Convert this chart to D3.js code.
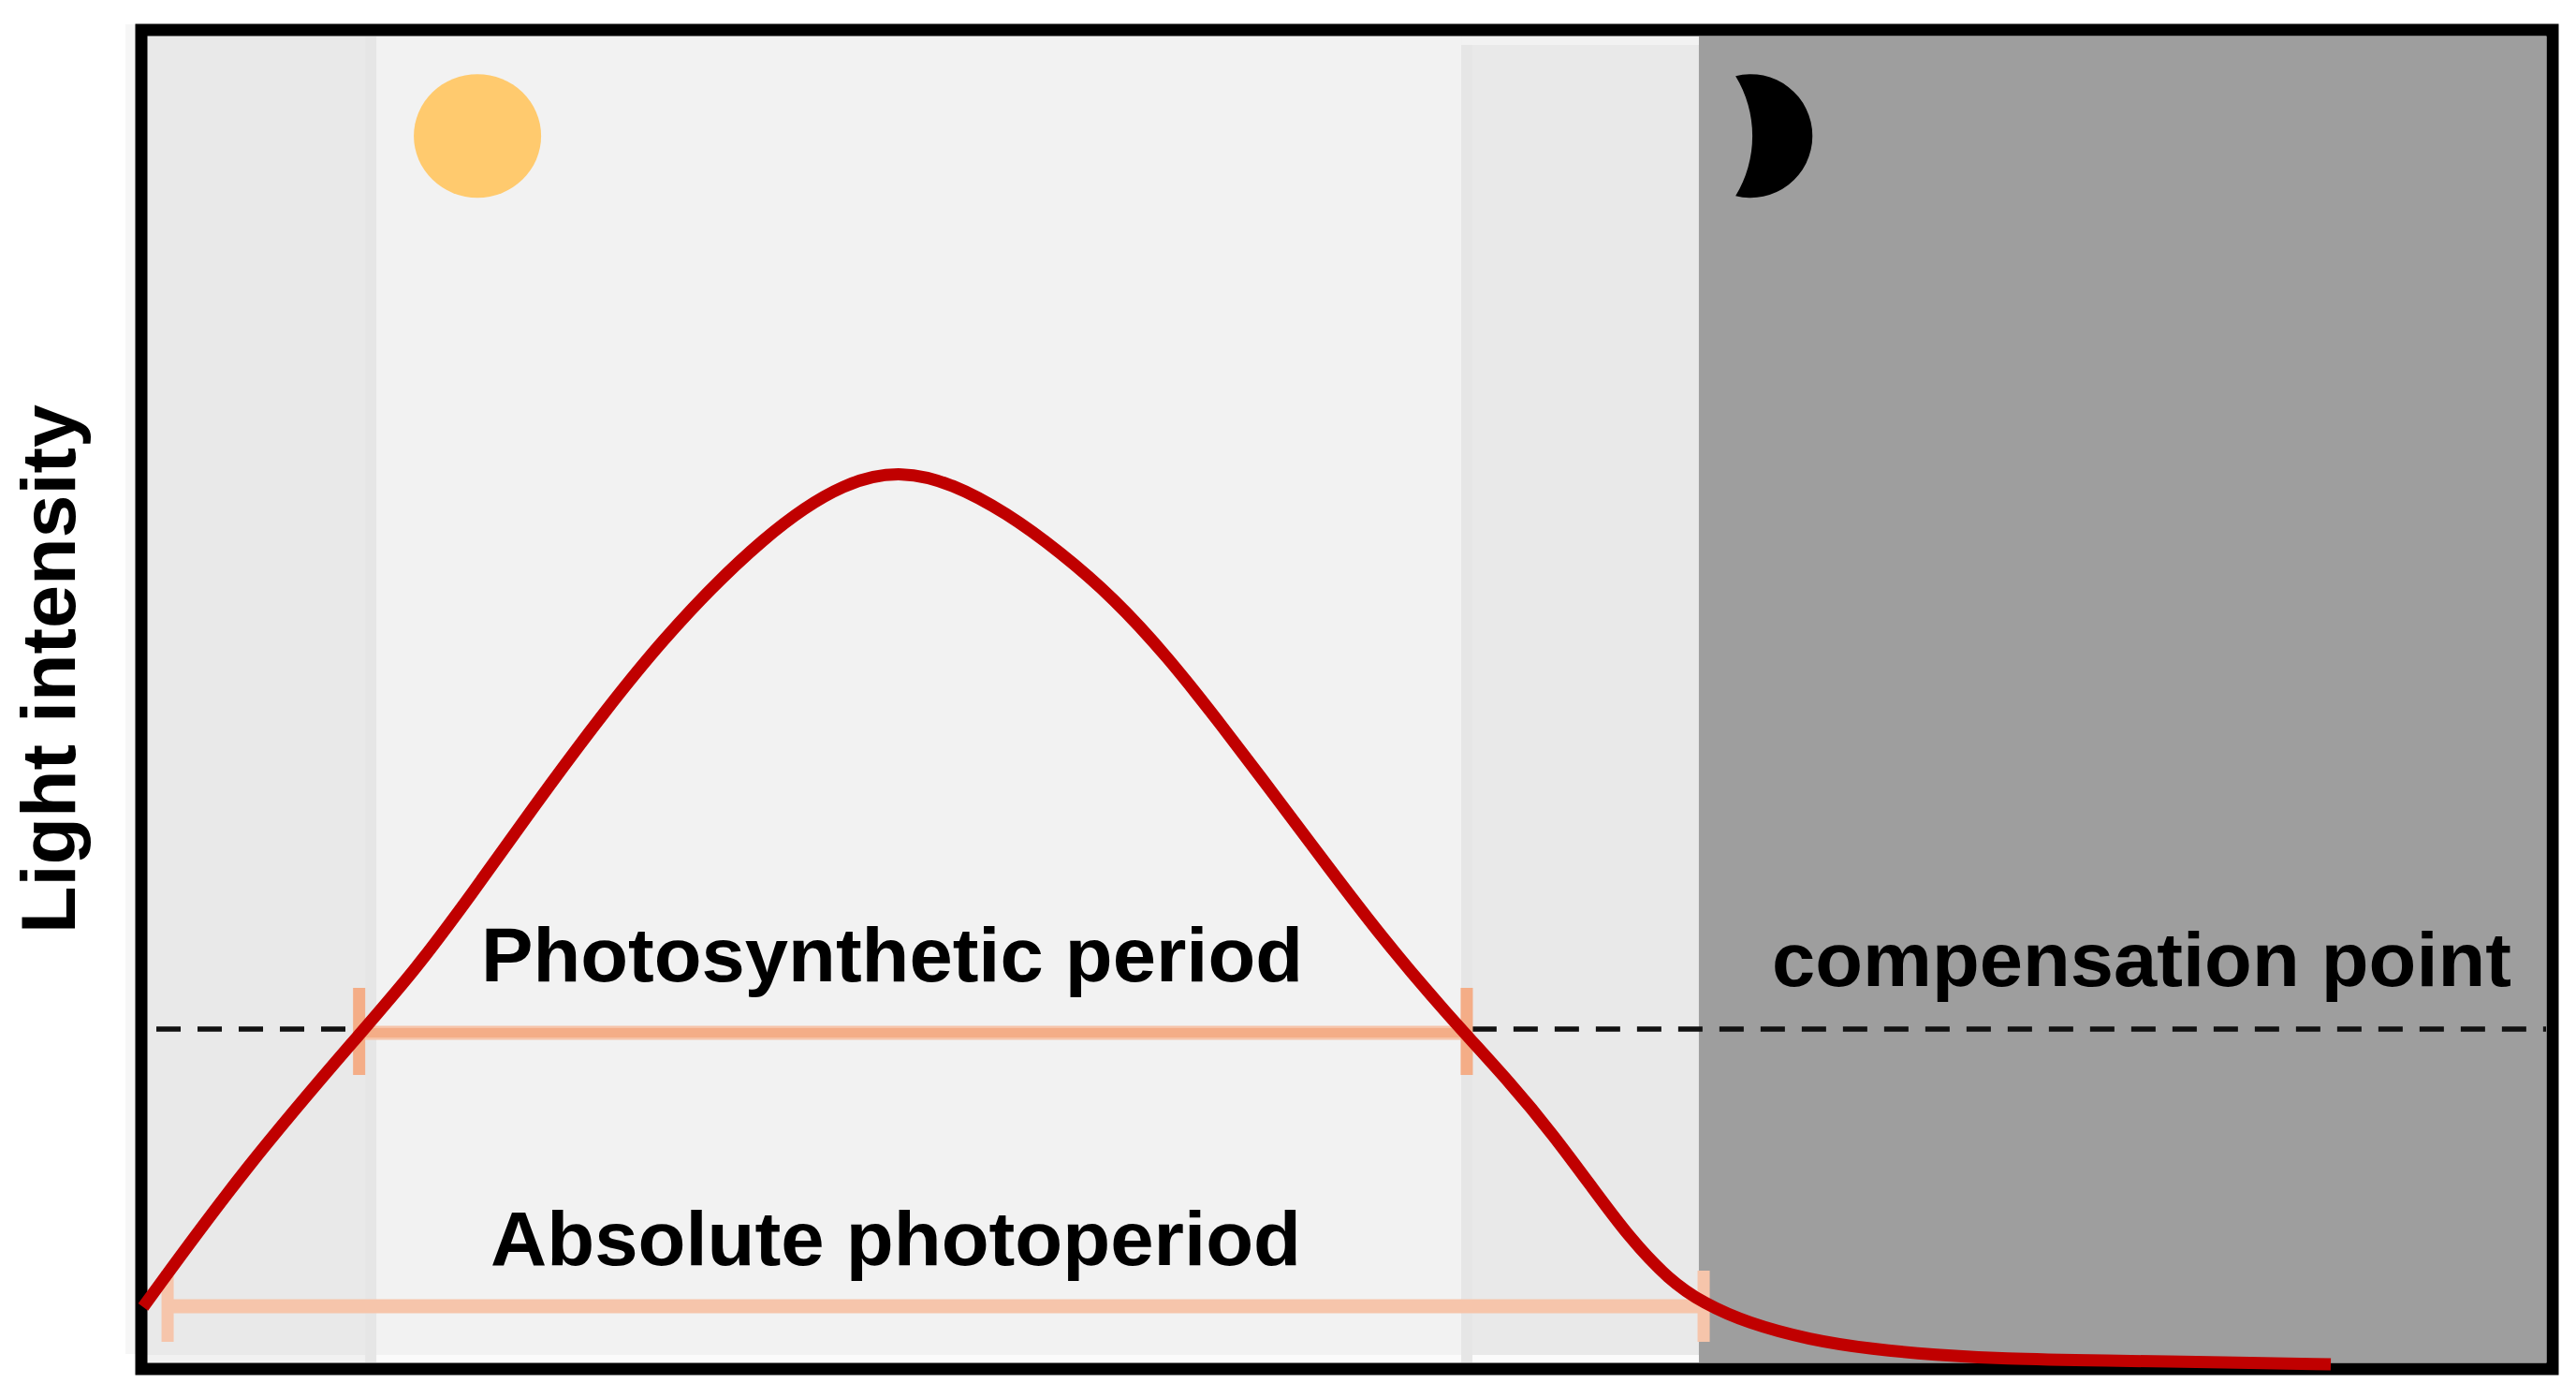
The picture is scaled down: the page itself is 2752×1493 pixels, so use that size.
<!DOCTYPE html>
<html>
<head>
<meta charset="utf-8">
<script src="https://cdn.jsdelivr.net/npm/d3@7/dist/d3.min.js"></script>
<style>
html,body{margin:0;padding:0;background:#fff;overflow:hidden}
svg{display:block;filter:blur(0.6px)}
text{font-family:"Liberation Sans",Arial,sans-serif;font-weight:700;fill:#000}
</style>
</head>
<body>
<svg id="chart" width="2752" height="1493"></svg>
<script>
// Values: x = % of the day window, y = % of the plot height
const timeValues = [-0.12,-0.12,4.17,9.01,11.19,13.65,15.68,17.71,21.41,25.90,29.21,31.55,33.58,35.84,38.07,40.33,42.55,44.77,47.04,49.26,51.52,54.06,56.98,58.66,60.22,61.78,63.46,64.90,66.73,69.31,71.92,74.57,77.34,81.51,86.74,91.03,91.03];
const lightValues = [4.17,4.17,14.83,25.00,29.52,35.52,40.70,45.76,54.50,62.70,66.55,67.25,66.30,64.10,61.15,57.63,53.25,48.16,42.73,37.36,31.99,26.55,20.83,17.09,13.28,9.46,6.21,4.45,2.97,1.70,0.99,0.56,0.28,0.14,0,-0.14,-0.14];
const zoneEdges = [0,9.13,54.8,64.7,100];
const zoneColors = ["#e9e9e9","#f2f2f2","#e9e9e9","#9e9e9e"];
const compensationLevel = 25.14;
const compensationSpans = [[0.43,8.88],[55.26,100]];
const photosyntheticSpan = [8.88,55.03];
const photosyntheticLevel = 24.86;
const absoluteSpan = [0.90,64.90];
const absoluteLevel = 4.24;
const labels = ["Photosynthetic period","Absolute photoperiod","compensation point"];
const yLabel = "Light intensity";

const frame = {l:156,r:2720,t:39,b:1455};
const x = d3.scaleLinear().domain([0,100]).range([frame.l,frame.r]);
const y = d3.scaleLinear().domain([0,100]).range([frame.b,frame.t]);
const svg = d3.select("#chart");

// soft edge left of the frame
svg.append("rect").attr("x",134).attr("y",26).attr("width",12).attr("height",1420).attr("fill","#f6f6f6");

// zones
svg.selectAll("rect.zone").data(zoneColors).join("rect").attr("class","zone")
  .attr("x",(d,i)=>x(zoneEdges[i])).attr("width",(d,i)=>x(zoneEdges[i+1])-x(zoneEdges[i]))
  .attr("y",frame.t).attr("height",frame.b-frame.t).attr("fill",d=>d);
// pale strips of the pasted panels
svg.append("rect").attr("x",x(zoneEdges[1])).attr("width",x(zoneEdges[3])-x(zoneEdges[1]))
  .attr("y",1447).attr("height",8).attr("fill","#fbfbfb");
svg.append("rect").attr("x",x(zoneEdges[0])).attr("width",x(zoneEdges[1])-x(zoneEdges[0]))
  .attr("y",1447).attr("height",8).attr("fill","#f1f1f1");
svg.append("rect").attr("x",x(zoneEdges[2])).attr("width",x(zoneEdges[3])-x(zoneEdges[2]))
  .attr("y",frame.t).attr("height",9).attr("fill","#f2f2f2");
svg.append("rect").attr("x",x(zoneEdges[1])).attr("width",12)
  .attr("y",frame.t).attr("height",frame.b-frame.t).attr("fill","#e6e6e6");
svg.append("rect").attr("x",x(zoneEdges[2])).attr("width",12)
  .attr("y",frame.t+9).attr("height",frame.b-frame.t-9).attr("fill","#e6e6e6");

// frame
svg.append("rect").attr("x",151).attr("y",32).attr("width",2576).attr("height",1430)
  .attr("fill","none").attr("stroke","#000").attr("stroke-width",13);

// compensation point
svg.selectAll("line.comp").data(compensationSpans).join("line").attr("class","comp")
  .attr("x1",d=>x(d[0])).attr("x2",d=>x(d[1])).attr("y1",y(compensationLevel)).attr("y2",y(compensationLevel))
  .attr("stroke","#111").attr("stroke-width",5.5).attr("stroke-dasharray","26 18");

// period brackets
function bracket(span,level,color,edge,tickUp,tickDown){
  const g = svg.append("g").attr("fill","none");
  g.append("line").attr("x1",x(span[0])).attr("x2",x(span[1])).attr("y1",y(level)).attr("y2",y(level)).attr("stroke",edge).attr("stroke-width",15);
  g.append("line").attr("x1",x(span[0])).attr("x2",x(span[1])).attr("y1",y(level)).attr("y2",y(level)).attr("stroke",color).attr("stroke-width",10);
  span.forEach(v=>g.append("line").attr("x1",x(v)).attr("x2",x(v)).attr("stroke",color)
    .attr("y1",y(level)-tickUp).attr("y2",y(level)+tickDown).attr("stroke-width",13));
}
bracket(photosyntheticSpan,photosyntheticLevel,"#f4ad87","#f6c4a9",48,45);
bracket(absoluteSpan,absoluteLevel,"#f6c5ab","#f6c5ab",38,38);

// light curve
const curve = d3.line().x(d=>x(d[0])).y(d=>y(d[1])).curve(d3.curveBasis);
svg.append("path").attr("d",curve(d3.zip(timeValues,lightValues)))
  .attr("fill","none").attr("stroke","#c00000").attr("stroke-width",13).attr("stroke-linecap","butt");

// sun and moon
svg.append("ellipse").attr("cx",x(13.81)).attr("cy",y(92.5)).attr("rx",68).attr("ry",66).attr("fill","#ffca6e");
const mx = x(66.23), my = y(92.5);
svg.append("path").attr("fill","#000")
  .attr("d",`M${mx},${my-64}A66,66 0 1 1 ${mx},${my+64}A123,123 0 0 0 ${mx},${my-64}Z`);

// labels
const fs = 82;
function label(text,px,py,len,rot){
  const t = svg.append("text").attr("font-size",fs).attr("textLength",len).attr("lengthAdjust","spacingAndGlyphs").text(text);
  if(rot) t.attr("transform",`translate(${px},${py}) rotate(-90)`);
  else t.attr("x",px).attr("y",py);
}
label(labels[0],514,1048,878);
label(labels[1],524,1351,866);
label(labels[2],1893,1053,790);
label(yLabel,80,997,565,true);
</script>
</body>
</html>
